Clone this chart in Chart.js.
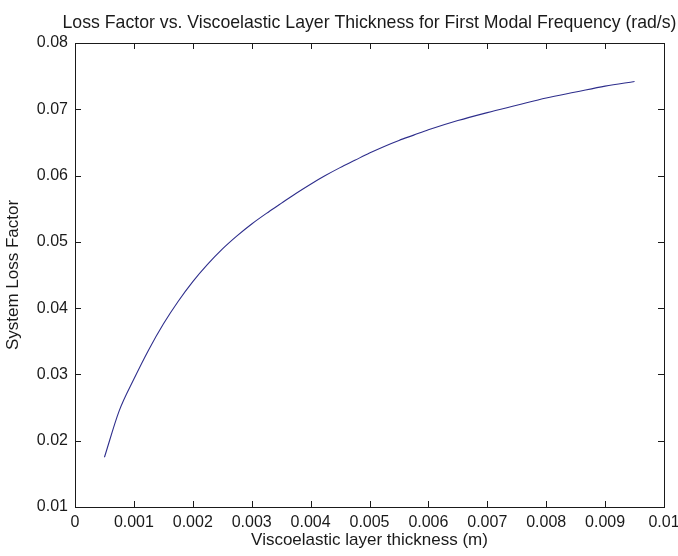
<!DOCTYPE html>
<html>
<head>
<meta charset="utf-8">
<title>Loss Factor vs. Viscoelastic Layer Thickness</title>
<script src="https://cdn.jsdelivr.net/npm/chart.js@4/dist/chart.umd.min.js"></script>
<style>
    html, body { margin: 0; padding: 0; background: #fff; }
    #wrap { width: 678px; height: 556px; }
</style>
</head>
<body>
<div id="wrap"><canvas id="lossChart" width="678" height="556"></canvas></div>
<script>
// Viscoelastic layer thickness (m)
const thickness = [
    0.0005, 0.00075, 0.001, 0.00125, 0.0015, 0.00175, 0.002, 0.00225, 0.0025, 0.00275,
    0.003, 0.00325, 0.0035, 0.00375, 0.004, 0.00425, 0.0045, 0.00475, 0.005, 0.00525,
    0.0055, 0.00575, 0.006, 0.0065, 0.007, 0.0075, 0.008, 0.0085, 0.009, 0.0095
];
// System loss factor
const lossFactor = [
    0.0175, 0.0245, 0.0293, 0.0337, 0.0376, 0.0410, 0.0440, 0.0466, 0.0489, 0.0509,
    0.0527, 0.0543, 0.0558, 0.0573, 0.0587, 0.0600, 0.0612, 0.0623, 0.0634, 0.0644,
    0.0653, 0.0661, 0.0669, 0.0683, 0.0695, 0.0706, 0.0717, 0.0726, 0.0735, 0.0742
];

const xTicks = [0, 0.001, 0.002, 0.003, 0.004, 0.005, 0.006, 0.007, 0.008, 0.009, 0.01];
const xTickLabels = ['0', '0.001', '0.002', '0.003', '0.004', '0.005', '0.006', '0.007', '0.008', '0.009', '0.01'];
const yTicks = [0.01, 0.02, 0.03, 0.04, 0.05, 0.06, 0.07, 0.08];
const yTickLabels = ['0.01', '0.02', '0.03', '0.04', '0.05', '0.06', '0.07', '0.08'];

const titleText = 'Loss Factor vs. Viscoelastic Layer Thickness for First Modal Frequency (rad/s)';

const FONT = "'Liberation Sans', Arial, sans-serif";
const INK = '#1a1a1a';

// MATLAB-Stil: Rahmen + nach innen zeigende Ticks auf allen vier Seiten, Titel über der Achse zentriert
const boxTicks = {
    id: 'boxTicks',
    afterDatasetsDraw(chart) {
        const { ctx, chartArea: a, scales: { x, y } } = chart;
        const len = 6;
        ctx.save();
        ctx.strokeStyle = INK;
        ctx.lineWidth = 1;
        ctx.beginPath();
        x.ticks.forEach(t => {
            const px = Math.round(x.getPixelForValue(t.value)) + 0.5;
            ctx.moveTo(px, a.bottom); ctx.lineTo(px, a.bottom - len);
            ctx.moveTo(px, a.top); ctx.lineTo(px, a.top + len);
        });
        y.ticks.forEach(t => {
            const py = Math.round(y.getPixelForValue(t.value)) + 0.5;
            ctx.moveTo(a.left, py); ctx.lineTo(a.left + len, py);
            ctx.moveTo(a.right, py); ctx.lineTo(a.right - len, py);
        });
        ctx.stroke();
        ctx.strokeRect(Math.round(a.left) + 0.5, Math.round(a.top) + 0.5,
            Math.round(a.right - a.left), Math.round(a.bottom - a.top));

        // Titel
        ctx.fillStyle = INK;
        ctx.font = `17.7px ${FONT}`;
        ctx.textAlign = 'center';
        ctx.textBaseline = 'alphabetic';
        ctx.fillText(titleText, (a.left + a.right) / 2, a.top - 15);
        ctx.restore();
    }
};

new Chart(document.getElementById('lossChart'), {
    type: 'line',
    data: {
        datasets: [{
            label: 'System Loss Factor',
            data: thickness.map((t, i) => ({ x: t, y: lossFactor[i] })),
            borderColor: '#2e2e8c',
            borderWidth: 1.1,
            pointRadius: 0,
            cubicInterpolationMode: 'monotone',
            fill: false
        }]
    },
    options: {
        responsive: false,
        animation: false,
        layout: { padding: { left: 0, right: 0, top: 43, bottom: 0 } },
        plugins: {
            legend: { display: false },
            tooltip: { enabled: false },
            title: { display: false }
        },
        scales: {
            x: {
                type: 'linear',
                min: 0,
                max: 0.01,
                afterBuildTicks: s => { s.ticks = xTicks.map(v => ({ value: v })); },
                afterFit: s => { s.height = 49; s.paddingRight = 14; },
                ticks: {
                    color: INK,
                    font: { family: FONT, size: 16 },
                    padding: 6,
                    maxRotation: 0,
                    autoSkip: false,
                    callback: (v, i) => xTickLabels[i]
                },
                grid: { display: false, drawTicks: false },
                border: { display: false },
                title: {
                    display: true,
                    text: 'Viscoelastic layer thickness (m)',
                    color: INK,
                    font: { family: FONT, size: 17 },
                    padding: { top: 0, bottom: 5 }
                }
            },
            y: {
                type: 'linear',
                min: 0.01,
                max: 0.08,
                afterBuildTicks: s => { s.ticks = yTicks.map(v => ({ value: v })); },
                afterFit: s => { s.width = 75; },
                ticks: {
                    color: INK,
                    font: { family: FONT, size: 16 },
                    padding: 7,
                    autoSkip: false,
                    callback: (v, i) => yTickLabels[i]
                },
                grid: { display: false, drawTicks: false },
                border: { display: false },
                title: {
                    display: true,
                    text: 'System Loss Factor',
                    color: INK,
                    font: { family: FONT, size: 17 },
                    padding: { top: 3, bottom: 0 }
                }
            }
        }
    },
    plugins: [boxTicks]
});
</script>
</body>
</html>
